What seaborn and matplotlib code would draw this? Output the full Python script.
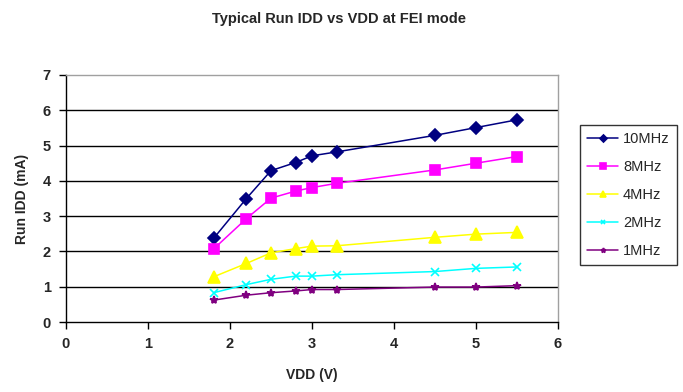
import matplotlib
matplotlib.use("Agg")
import matplotlib.pyplot as plt
import seaborn as sns
import pandas as pd

vdd = [1.8, 2.2, 2.5, 2.8, 3.0, 3.3, 4.5, 5.0, 5.5]
idd_10mhz = [2.37, 3.50, 4.29, 4.52, 4.71, 4.82, 5.29, 5.51, 5.73]
idd_8mhz = [2.07, 2.93, 3.51, 3.71, 3.81, 3.93, 4.31, 4.50, 4.69]
idd_4mhz = [1.28, 1.66, 1.96, 2.08, 2.15, 2.16, 2.40, 2.49, 2.54]
idd_2mhz = [0.83, 1.06, 1.21, 1.30, 1.30, 1.34, 1.43, 1.52, 1.56]
idd_1mhz = [0.62, 0.76, 0.83, 0.88, 0.92, 0.92, 0.99, 0.99, 1.03]
series_names = ["10MHz", "8MHz", "4MHz", "2MHz", "1MHz"]

rows = []
for name, vals in zip(series_names, [idd_10mhz, idd_8mhz, idd_4mhz, idd_2mhz, idd_1mhz]):
    for v, i in zip(vdd, vals):
        rows.append({"VDD": v, "IDD": i, "Freq": name})
df = pd.DataFrame(rows)

sns.set_theme(style="white")
plt.rcParams['font.family'] = ['Liberation Sans', 'DejaVu Sans']

palette = {"10MHz": "#000080", "8MHz": "#FF00FF", "4MHz": "#FFFF00",
           "2MHz": "#00FFFF", "1MHz": "#800080"}
markers = {"10MHz": "D", "8MHz": "s", "4MHz": "^", "2MHz": "x", "1MHz": "*"}
msizes = {"10MHz": 6, "8MHz": 7, "4MHz": 8, "2MHz": 6, "1MHz": 6}

fig = plt.figure(figsize=(6.83, 3.92), dpi=100)
ax = fig.add_axes([66/683, 70/392, (558-66)/683, (322-75)/392])

for name in series_names:
    sub = df[df["Freq"] == name]
    sns.lineplot(data=sub, x="VDD", y="IDD", ax=ax, color=palette[name],
                 marker=markers[name], markersize=msizes[name],
                 markeredgecolor=palette[name], markeredgewidth=1.2,
                 linewidth=1.1, label=name, estimator=None, sort=False)

ax.set_xlim(0, 6)
ax.set_ylim(0, 7)
ax.set_xticks(range(0, 7))
ax.set_yticks(range(0, 8))
for y in range(1, 7):
    ax.axhline(y, color="black", linewidth=1.0, zorder=0)
ax.spines["left"].set_color("black")
ax.spines["bottom"].set_color("black")
ax.spines["top"].set_color("#A0A0A0")
ax.spines["right"].set_color("#A0A0A0")
for s in ax.spines.values():
    s.set_linewidth(1.0)
ax.tick_params(axis="both", direction="out", length=5, width=1, color="black",
               labelsize=10.5, pad=6, bottom=True, left=True)
for lab in ax.get_xticklabels() + ax.get_yticklabels():
    lab.set_fontweight("bold")
ax.set_xlabel("VDD (V)", fontsize=10, fontweight="bold", labelpad=12)
ax.set_ylabel("Run IDD (mA)", fontsize=10, fontweight="bold", labelpad=10)

fig.suptitle("Typical Run IDD vs VDD at FEI mode", x=0.497, y=0.97,
             fontsize=10.5, fontweight="bold")

leg = ax.legend(loc="upper left", bbox_to_anchor=(580/683, 1 - 125/392),
                bbox_transform=fig.transFigure, frameon=True, fancybox=False,
                edgecolor="black", fontsize=10.5, handlelength=2.1,
                markerscale=0.6, borderpad=0.5, labelspacing=0.95,
                handletextpad=0.35, borderaxespad=0.0)
leg.get_frame().set_linewidth(1.0)

fig.savefig("out.png", dpi=100)
